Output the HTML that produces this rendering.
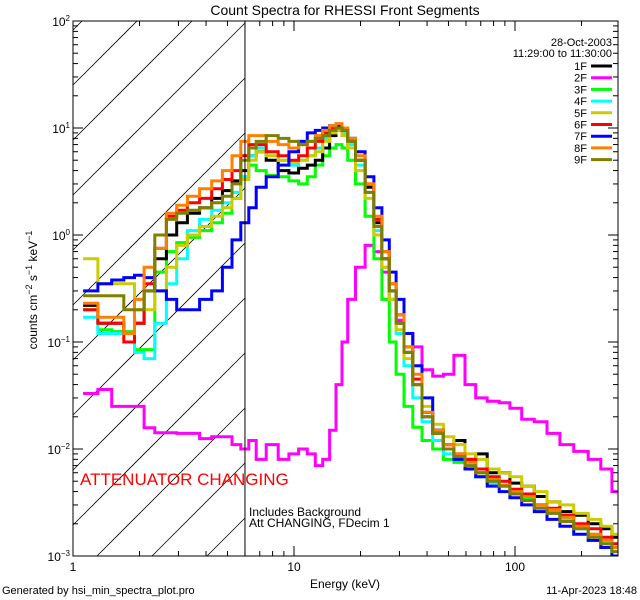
<!DOCTYPE html>
<html><head><meta charset="utf-8"><style>
html,body{margin:0;padding:0;background:#fff;width:640px;height:600px;overflow:hidden;}
svg{display:block;font-family:"Liberation Sans",sans-serif;}
</style></head><body>
<svg id="chart" width="640" height="600" xmlns="http://www.w3.org/2000/svg">
<rect width="640" height="600" fill="#fff"/>
<text x="345" y="15" font-size="14" text-anchor="middle">Count Spectra for RHESSI Front Segments</text>
<defs><clipPath id="pclip"><rect x="73" y="21" width="545" height="535"/></clipPath></defs>
<g id="hatch"></g>
<g id="series" clip-path="url(#pclip)"></g>
<g id="axes"></g>
<text x="80" y="485" font-size="17" fill="#ff0000">ATTENUATOR CHANGING</text>
<text x="249" y="516" font-size="12">Includes Background</text>
<text x="249" y="527" font-size="12">Att CHANGING, FDecim 1</text>
<text x="345" y="588" font-size="12" text-anchor="middle">Energy (keV)</text>
<text transform="translate(37,290) rotate(-90)" font-size="12" text-anchor="middle">counts cm<tspan dy="-5" font-size="9">−2</tspan><tspan dy="5"> s</tspan><tspan dy="-5" font-size="9">−1</tspan><tspan dy="5"> keV</tspan><tspan dy="-5" font-size="9">−1</tspan></text>
<text x="2" y="594" font-size="11">Generated by hsi_min_spectra_plot.pro</text>
<text x="637" y="594" font-size="11" text-anchor="end">11-Apr-2023 18:48</text>
<text x="612" y="46" font-size="11" text-anchor="end">28-Oct-2003</text>
<text x="612" y="57" font-size="11" text-anchor="end">11:29:00 to 11:30:00</text>
<g id="legend"></g>
</svg>
<script>
const energies=[1.2,1.4,1.6,1.8,2.0,2.2,2.5,2.8,3.1,3.5,4.0,4.5,5.0,5.5,6.0,6.5,7,8,9,10,11,12,13,14,15,16,17,18,20,22,24,26,28,30,33,36,40,45,50,56,63,70,80,90,100,115,130,150,170,200,230,260,290];
const s1F=[0.22,0.15,0.15,0.12,0.15,0.3,0.6,1.0,1.3,1.6,1.8,2.2,2.6,3.2,4.0,5.5,6.0,5.0,4.0,3.8,4.2,4.5,5.0,6.5,8.5,9.5,9.0,7.5,5.0,2.8,1.3,0.6,0.3,0.15,0.08,0.04,0.022,0.015,0.011,0.012,0.008,0.009,0.006,0.006,0.0048,0.0045,0.0036,0.0032,0.0026,0.0024,0.002,0.0018,0.0015];
const s2F=[0.033,0.036,0.025,0.025,0.025,0.0158,0.0142,0.0142,0.014,0.014,0.0125,0.013,0.013,0.011,0.01,0.012,0.008,0.011,0.008,0.009,0.01,0.009,0.007,0.008,0.015,0.04,0.1,0.25,0.5,0.8,0.7,0.45,0.25,0.16,0.12,0.09,0.055,0.048,0.05,0.075,0.04,0.03,0.028,0.027,0.024,0.019,0.018,0.014,0.011,0.0095,0.008,0.0065,0.004];
const s3F=[0.2,0.13,0.125,0.125,0.085,0.085,0.45,0.7,0.85,0.95,1.1,1.3,1.6,2.2,3.5,4.5,4.0,3.6,3.5,3.2,3.0,3.5,4.5,5.5,6.5,7.0,6.5,5.0,3.0,1.5,0.6,0.25,0.1,0.05,0.025,0.016,0.012,0.01,0.008,0.0075,0.0065,0.006,0.005,0.0045,0.004,0.0034,0.003,0.0026,0.0023,0.0019,0.0016,0.0013,0.0011];
const s4F=[0.17,0.12,0.12,0.12,0.08,0.07,0.15,0.35,0.6,1.1,1.4,1.7,2.0,2.5,3.5,5.5,6.5,5.5,5.0,4.5,5.0,5.5,6.5,8.0,9.5,10,9.0,7.0,4.5,2.5,1.1,0.5,0.25,0.12,0.06,0.03,0.018,0.012,0.009,0.008,0.007,0.0055,0.0048,0.0045,0.004,0.0033,0.003,0.0025,0.0022,0.0018,0.0014,0.0012,0.001];
const s5F=[0.6,0.35,0.35,0.35,0.2,0.2,0.3,0.5,0.8,1.0,1.2,1.5,1.8,2.2,3.3,5.0,6.0,5.5,5.0,4.8,5.0,5.5,6.0,7.5,9.0,9.5,8.5,6.5,4.0,2.2,1.0,0.5,0.25,0.13,0.07,0.04,0.025,0.017,0.013,0.011,0.009,0.008,0.0065,0.006,0.0055,0.0045,0.004,0.0032,0.003,0.0025,0.0022,0.0019,0.0016];
const s6F=[0.2,0.15,0.15,0.1,0.15,0.35,0.75,1.5,1.7,2.0,2.2,2.7,3.3,4.0,5.5,7.0,7.0,6.0,5.5,5.0,5.5,6.5,7.5,9.0,10,10.5,9.5,8.0,5.0,3.0,1.4,0.7,0.35,0.18,0.09,0.045,0.02,0.014,0.011,0.009,0.008,0.0065,0.0055,0.005,0.0042,0.0038,0.003,0.0028,0.0024,0.002,0.0018,0.0015,0.0013];
const s7F=[0.3,0.35,0.38,0.4,0.42,0.4,0.3,0.25,0.2,0.2,0.25,0.3,0.5,0.9,1.3,1.8,2.8,3.5,4.5,6.0,7.5,9.0,9.5,10,10.5,10.5,9.5,8.0,6.0,3.5,1.8,0.9,0.45,0.25,0.12,0.06,0.03,0.015,0.01,0.008,0.0065,0.0055,0.0045,0.004,0.0035,0.003,0.0026,0.0022,0.0019,0.0016,0.0014,0.0012,0.001];
const s8F=[0.23,0.17,0.17,0.12,0.25,0.5,0.75,1.6,1.9,2.3,2.7,3.2,4.0,5.5,7.5,8.5,8.5,7.5,7.0,6.5,7.0,7.5,8.5,9.5,10.5,11,10,8.0,5.5,3.0,1.5,0.7,0.35,0.18,0.09,0.05,0.022,0.015,0.011,0.009,0.0075,0.006,0.0052,0.0046,0.004,0.0036,0.003,0.0027,0.0023,0.0019,0.0016,0.0014,0.0012];
const s9F=[0.27,0.27,0.27,0.2,0.2,0.3,1.0,1.4,1.6,1.7,1.8,2.0,2.3,3.0,5.0,6.5,7.5,8.5,8.0,7.5,7.0,7.5,8.0,8.5,9.5,10,9.5,7.5,5.0,2.5,1.2,0.6,0.3,0.15,0.08,0.04,0.02,0.014,0.01,0.0085,0.007,0.006,0.005,0.0045,0.0038,0.0033,0.0028,0.0025,0.0021,0.0018,0.0015,0.0013,0.0011];
const seriesNames=["1F","2F","3F","4F","5F","6F","7F","8F","9F"];
const seriesData=[s1F,s2F,s3F,s4F,s5F,s6F,s7F,s8F,s9F];
const seriesColors=["#000000","#ff00ff","#00ff00","#00ffff","#cccc00","#ff0000","#0000ff","#ff8000","#808000"];
const drawOrder=[1,2,0,3,4,5,6,7,8];
const NS="http://www.w3.org/2000/svg";
const X0=73,X1=618,Y0=21,Y1=556,DX=221,DY=107;
function xs(e){return X0+DX*Math.log10(e);}
function ys(v){return Math.min(Y1,Math.max(Y0,Y0+DY*(2-Math.log10(v))));}
function mk(tag,attrs,parent){const el=document.createElementNS(NS,tag);for(const k in attrs)el.setAttribute(k,attrs[k]);parent.appendChild(el);return el;}
const hatch=document.getElementById('hatch');
const HX1=245;
for(let k=-12;k<14;k++){const c=30+55*k;
 const xa=Math.max(X0,X0+c-Y1), xb=Math.min(HX1,X0+c-Y0);
 if(xb<=xa)continue;
 const ln=mk('line',{x1:xa,y1:c-(xa-X0),x2:xb,y2:c-(xb-X0),stroke:'#000','stroke-width':0.8},hatch);
 
 }
const sg=document.getElementById('series');
const edges=[];
for(let i=0;i<=energies.length;i++){
 if(i===0)edges.push(energies[0]*energies[0]/Math.sqrt(energies[0]*energies[1]));
 else if(i===energies.length)edges.push(energies[i-1]*energies[i-1]/Math.sqrt(energies[i-2]*energies[i-1]));
 else edges.push(Math.sqrt(energies[i-1]*energies[i]));}
drawOrder.forEach(si=>{const d=seriesData[si];let p='';
 for(let i=0;i<d.length;i++){const y=ys(d[i]).toFixed(1);
  p+=(i===0?'M'+xs(edges[0]).toFixed(1)+','+y:'V'+y)+'H'+Math.min(X1,xs(edges[i+1])).toFixed(1);}
 const path=mk('path',{d:p,fill:'none',stroke:seriesColors[si],'stroke-width':3},sg);
 
 });
const ax=document.getElementById('axes');
const frame=mk('rect',{x:X0,y:Y0,width:X1-X0,height:Y1-Y0,fill:'none',stroke:'#000','stroke-width':1},ax);


const atten=mk('line',{x1:xs(6),y1:Y0,x2:xs(6),y2:Y1,stroke:'#000','stroke-width':1},ax);


const xTickLabels=["1","10","100"];
for(let d=0;d<3;d++)for(let m=1;m<10;m++){const e=Math.pow(10,d)*m;const x=xs(e);if(x>X1)continue;const L=m===1?10:5;
 const t1=mk('line',{x1:x,y1:Y1,x2:x,y2:Y1-L,stroke:'#000'},ax);
 const t2=mk('line',{x1:x,y1:Y0,x2:x,y2:Y0+L,stroke:'#000'},ax);
 if(m===1){const t=mk('text',{x:x,y:Y1+15,'font-size':12,'text-anchor':'middle'},ax);t.textContent=xTickLabels[d];
  }}
const yExps=["2","1","0","−1","−2","−3"];
for(let d=-3;d<=2;d++){const i=2-d;
 const yl=ys(Math.pow(10,d));
 const t=mk('text',{x:X0-3,y:yl+5,'font-size':12,'text-anchor':'end'},ax);
 
 t.innerHTML='10<tspan dy="-5" font-size="8">'+yExps[i]+'</tspan>';
 for(let m=1;m<10;m++){const v=Math.pow(10,d)*m;const y=Y0+DY*(2-Math.log10(v));if(y<Y0-0.5||d===2&&m>1)continue;const L=m===1?10:5;
  const a=mk('line',{x1:X0,y1:y,x2:X0+L,y2:y,stroke:'#000'},ax);
  const b=mk('line',{x1:X1,y1:y,x2:X1-L,y2:y,stroke:'#000'},ax);}}
const lg=document.getElementById('legend');
seriesNames.forEach((n,i)=>{const y=66+11.7*i;
 const g=mk('g',{},lg);
 const t=mk('text',{x:587,y:y+4,'font-size':11,'text-anchor':'end'},g);t.textContent=n;
 mk('line',{x1:591,y1:y,x2:612,y2:y,stroke:seriesColors[i],'stroke-width':3},g);});
</script>
</body></html>
